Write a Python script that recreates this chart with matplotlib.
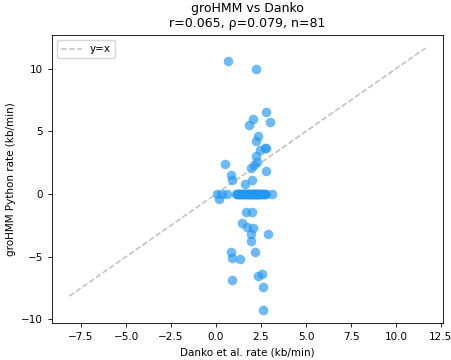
"""groHMM vs Danko elongation rate comparison scatter."""

import matplotlib

matplotlib.use("Agg")
import matplotlib.pyplot as plt  # noqa: E402
import numpy as np  # noqa: E402

# points off the zero line (Danko rate, groHMM Python rate), kb/min
danko_nonzero = [
    0.68, 2.20, 2.79, 2.05, 2.98, 1.83, 2.33, 2.20, 2.72, 2.79, 2.44,
    2.20, 2.29, 2.11, 1.92, 0.48, 2.76, 0.82, 0.90, 2.01, 1.59,
    0.17, 1.68, 2.01, 1.46, 1.74, 2.07, 1.94, 2.87, 1.94, 2.15, 0.82,
    0.90, 1.33, 2.57, 2.35, 0.87, 2.61, 2.62,
]
grohmm_nonzero = [
    10.63, 10.00, 6.53, 5.95, 5.74, 5.48, 4.61, 4.20, 3.69, 3.69, 3.53,
    3.01, 2.56, 2.30, 2.11, 2.38, 1.85, 1.51, 1.12, 1.12, 0.80,
    -0.38, -1.46, -1.46, -2.30, -2.62, -2.70, -3.17, -3.22, -3.75, -4.59, -4.61,
    -5.14, -5.19, -6.37, -6.56, -6.88, -7.43, -9.27,
]
# genes where groHMM gave 0
danko_zero = [
    0.07, 0.35, 0.59, 3.09,
    1.09, 1.15, 1.20, 1.26, 1.30, 1.35, 1.40, 1.44, 1.50, 1.55, 1.60, 1.64,
    1.70, 1.74, 1.80, 1.85, 1.90, 1.95, 2.00, 2.04, 2.10, 2.14, 2.20, 2.25,
    2.30, 2.35, 2.40, 2.44, 2.50, 2.55, 2.60, 2.66, 2.72, 2.76, 1.98, 2.18,
    2.28, 1.82,
]
diag_range = [-8.15, 11.65]

x = np.array(danko_nonzero + danko_zero)
y = np.array(grohmm_nonzero + [0.0] * len(danko_zero))

fig, ax = plt.subplots(figsize=(4.52, 3.6), dpi=100)
fig.subplots_adjust(left=0.114, right=0.981, top=0.903, bottom=0.102)

ax.scatter(x, y, s=48, color="#2196F3", alpha=0.65, linewidths=0, zorder=3)
ax.plot(diag_range, diag_range, ls="--", color="gray", alpha=0.5, lw=1.1, label="y=x")

ax.set_title("groHMM vs Danko\nr=0.065, ρ=0.079, n=81", fontsize=9)
ax.set_xlabel("Danko et al. rate (kb/min)", fontsize=7.5)
ax.set_ylabel("groHMM Python rate (kb/min)", fontsize=7.5)
ax.tick_params(labelsize=7.5, length=2.6, width=0.6)
for sp in ax.spines.values():
    sp.set_linewidth(0.6)
ax.legend(loc="upper left", fontsize=7.5)

fig.savefig("out.png")
plt.close(fig)
